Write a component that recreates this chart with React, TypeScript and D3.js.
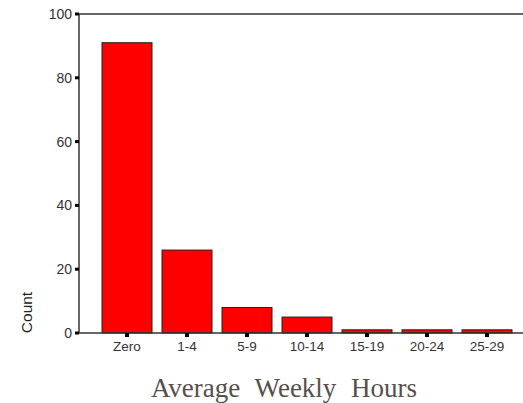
import React from "react";
import * as d3 from "d3";

const categories = ["Zero", "1-4", "5-9", "10-14", "15-19", "20-24", "25-29"];
const counts = [91, 26, 8, 5, 1, 1, 1];
const yTicks = [0, 20, 40, 60, 80, 100];

export default function App() {
  const W = 523, H = 403;
  const left = 79, right = 523, top = 14, bottom = 333;
  const x = d3.scaleBand<string>().domain(categories).range([97, 517]).paddingInner(1 / 6).paddingOuter(1 / 12);
  const y = d3.scaleLinear().domain([0, 100]).range([bottom, top]);
  return (
    <svg width={W} height={H} style={{ position: "absolute", left: 0, top: 0 }}>
      <rect width={W} height={H} fill="#fff" />
      {categories.map((c, i) => (
        <rect key={c} x={x(c)!} y={y(counts[i])} width={x.bandwidth()} height={bottom - y(counts[i])}
          fill="#ff0000" stroke="#222" strokeWidth={1} />
      ))}
      <line x1={left} x2={right} y1={top} y2={top} stroke="#666" strokeWidth={2} />
      <line x1={left} x2={left} y1={top} y2={bottom} stroke="#333" strokeWidth={1.5} />
      <line x1={left} x2={right} y1={bottom} y2={bottom} stroke="#333" strokeWidth={1.5} />
      {yTicks.map(t => (
        <g key={t}>
          <rect x={left - 4} y={y(t) - 1.5} width={4} height={3} fill="#000" />
          <text x={72} y={y(t)} dy="0.35em" textAnchor="end" fontFamily="Liberation Sans, Arial, sans-serif" fontSize={14} fill="#333">{t}</text>
        </g>
      ))}
      {categories.map(c => {
        const cx = x(c)! + x.bandwidth() / 2;
        return (
          <g key={c}>
            <rect x={cx - 2} y={bottom} width={4} height={4} fill="#000" />
            <text x={cx} y={351} textAnchor="middle" fontFamily="Liberation Sans, Arial, sans-serif" fontSize={13.5} fill="#333">{c}</text>
          </g>
        );
      })}
      <text transform="translate(32,312.5) rotate(-90)" textAnchor="middle" fontFamily="Liberation Sans, Arial, sans-serif" fontSize={15.5} fill="#222">Count</text>
      <text x={284} y={397} textAnchor="middle" fontFamily="Liberation Serif, serif" fontSize={27} fill="#575049" wordSpacing={8}>Average Weekly Hours</text>
    </svg>
  );
}
